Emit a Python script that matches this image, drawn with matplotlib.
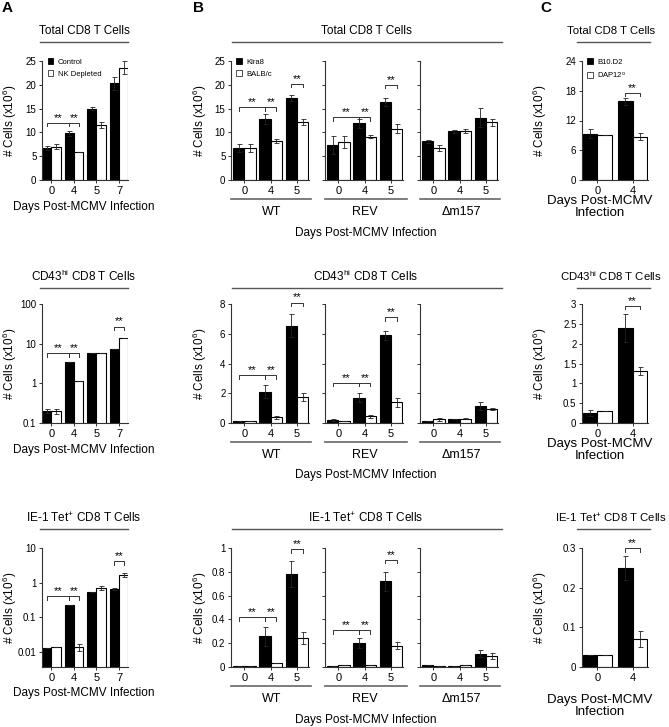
import matplotlib
matplotlib.use("Agg")
import matplotlib.pyplot as plt
from matplotlib.lines import Line2D
from matplotlib.patches import Patch

plt.rcParams["font.family"] = ["Liberation Sans", "DejaVu Sans"]
plt.rcParams["mathtext.default"] = "regular"

W, H = 669, 727

# ---- panel A: control vs NK depleted ----
days_A = ["0", "4", "5", "7"]
A_total_ctrl = [6.7, 9.8, 15.0, 20.3]
A_total_ctrl_err = [0.4, 0.5, 0.3, 1.3]
A_total_nk = [7.0, 5.8, 11.5, 23.6]
A_total_nk_err = [0.5, 0.0, 0.6, 1.3]
A_cd43_ctrl = [0.2, 3.4, 5.7, 7.3]
A_cd43_ctrl_err = [0.02, 0, 0, 0]
A_cd43_nk = [0.2, 1.15, 5.9, 13.5]
A_cd43_nk_err = [0.03, 0, 0, 0]
A_tet_ctrl = [0.013, 0.22, 0.55, 0.65]
A_tet_ctrl_err = [0, 0, 0, 0.05]
A_tet_nk = [0.014, 0.014, 0.72, 1.7]
A_tet_nk_err = [0, 0.003, 0.1, 0.2]
A_total_sig = [(0, 0, 1, 0, 12.0), (1, 0, 1, 1, 12.0)]
A_cd43_sig = [(0, 0, 1, 0, 5.8), (1, 0, 1, 1, 5.8), (3, 0, 3, 1, 27)]
A_tet_sig = [(0, 0, 1, 0, 0.4), (1, 0, 1, 1, 0.4), (3, 0, 3, 1, 4.2)]

# ---- panel B: Klra8 vs BALB/c, per virus ----
days_B = ["0", "4", "5"]
viruses = ["WT", "REV", "\u0394m157"]
B_total_klra8 = [[6.7, 12.8, 17.2], [7.3, 11.9, 16.4], [8.1, 10.2, 13.1]]
B_total_klra8_err = [[0.9, 1.0, 0.7], [1.9, 1.0, 0.9], [0.3, 0.4, 2.0]]
B_total_balb = [[6.7, 8.2, 12.2], [8.0, 9.1, 10.8], [6.7, 10.3, 12.1]]
B_total_balb_err = [[0.9, 0.4, 0.6], [1.2, 0.3, 0.9], [0.6, 0.5, 0.7]]
B_cd43_klra8 = [[0.15, 2.1, 6.55], [0.2, 1.7, 5.9], [0.15, 0.3, 1.15]]
B_cd43_klra8_err = [[0, 0.45, 0.8], [0.05, 0.3, 0.3], [0, 0, 0.25]]
B_cd43_balb = [[0.15, 0.4, 1.75], [0.15, 0.45, 1.4], [0.25, 0.3, 0.95]]
B_cd43_balb_err = [[0, 0.1, 0.25], [0, 0.1, 0.3], [0.1, 0.05, 0.05]]
B_tet_klra8 = [[0.01, 0.26, 0.78], [0.01, 0.2, 0.72], [0.015, 0.012, 0.11]]
B_tet_klra8_err = [[0, 0.08, 0.11], [0, 0.04, 0.08], [0, 0, 0.03]]
B_tet_balb = [[0.01, 0.03, 0.24], [0.015, 0.02, 0.18], [0.01, 0.013, 0.09]]
B_tet_balb_err = [[0, 0, 0.05], [0, 0, 0.03], [0, 0, 0.025]]
B_total_sig = [[(0, 0, 1, 0, 15.3), (1, 0, 1, 1, 15.3), (2, 0, 2, 1, 20.2)],
               [(0, 0, 1, 0, 13.2), (1, 0, 1, 1, 13.2), (2, 0, 2, 1, 20.0)], []]
B_cd43_sig = [[(0, 0, 1, 0, 3.2), (1, 0, 1, 1, 3.2), (2, 0, 2, 1, 8.1)],
              [(0, 0, 1, 0, 2.7), (1, 0, 1, 1, 2.7), (2, 0, 2, 1, 7.1)], []]
B_tet_sig = [[(0, 0, 1, 0, 0.42), (1, 0, 1, 1, 0.42), (2, 0, 2, 1, 0.99)],
             [(0, 0, 1, 0, 0.31), (1, 0, 1, 1, 0.31), (2, 0, 2, 1, 0.9)], []]

# ---- panel C: B10.D2 vs DAP12 ----
days_C = ["0", "4"]
C_total_b10 = [9.3, 15.9]
C_total_b10_err = [0.9, 0.7]
C_total_dap = [9.1, 8.7]
C_total_dap_err = [0, 0.7]
C_cd43_b10 = [0.25, 2.4]
C_cd43_b10_err = [0.07, 0.35]
C_cd43_dap = [0.3, 1.3]
C_cd43_dap_err = [0, 0.1]
C_tet_b10 = [0.03, 0.25]
C_tet_b10_err = [0, 0.03]
C_tet_dap = [0.03, 0.07]
C_tet_dap_err = [0, 0.02]
C_total_sig = [(1, 0, 1, 1, 17.6)]
C_cd43_sig = [(1, 0, 1, 1, 2.95)]
C_tet_sig = [(1, 0, 1, 1, 0.3)]

titles = ["Total CD8 T Cells", "CD43$^{hi}$ CD8 T Cells", "IE-1 Tet$^{+}$ CD8 T Cells"]
ylab = "# Cells (x10$^{6}$)"
xlab = "Days Post-MCMV Infection"

fig = plt.figure(figsize=(W / 100, H / 100), dpi=100)


def px_axes(x0, x1, y0, y1):
    return fig.add_axes([x0 / W, 1 - y1 / H, (x1 - x0) / W, (y1 - y0) / H])


def ftext(x, y, s, **kw):
    kw.setdefault("ha", "center")
    kw.setdefault("va", "center")
    fig.text(x / W, 1 - y / H, s, **kw)


def fline(x0, x1, y, color="#555555", lw=1.0):
    fig.add_artist(Line2D([x0 / W, x1 / W], [1 - y / H, 1 - y / H],
                          color=color, lw=lw, transform=fig.transFigure))


def bracket(ax, xa, xb, y):
    yp = ax.transData.transform((xa, y))[1]
    y2 = ax.transData.inverted().transform((0, yp - 3.5))[1]
    ax.plot([xa, xa, xb, xb], [y2, y, y, y2], color="#333333", lw=0.7,
            clip_on=False)
    ax.text((xa + xb) / 2, y, "**", ha="center", va="bottom", fontsize=8,
            clip_on=False)


def bars(ax, labels, black, black_err, white, white_err, w, xlim, ylim,
         yticks, ytl, sig, log=False, show_ylabels=True):
    x = list(range(len(labels)))
    xb = [i - w / 2 for i in x]
    xw = [i + w / 2 for i in x]
    ax.bar(xb, black, w, color="black", edgecolor="black", lw=0.8, zorder=2)
    ax.bar(xw, white, w, color="white", edgecolor="black", lw=0.8, zorder=2)
    ax.errorbar(xb, black, yerr=black_err, fmt="none", ecolor="#222222",
                elinewidth=0.6, capsize=1.8, capthick=0.6, zorder=3)
    ax.errorbar(xw, white, yerr=white_err, fmt="none", ecolor="#222222",
                elinewidth=0.6, capsize=1.8, capthick=0.6, zorder=3)
    if log:
        ax.set_yscale("log")
    ax.set_xlim(*xlim)
    ax.set_ylim(*ylim)
    ax.set_yticks(yticks)
    ax.minorticks_off()
    ax.set_yticklabels(ytl if show_ylabels else [])
    ax.set_xticks(x)
    ax.set_xticklabels(labels)
    for s in ["top", "right"]:
        ax.spines[s].set_visible(False)
    for s in ["left", "bottom"]:
        ax.spines[s].set_linewidth(0.8)
        ax.spines[s].set_color("#333333")
    ax.tick_params(axis="y", length=2.5, width=0.7, labelsize=7, pad=1.5,
                   colors="#333333", labelcolor="black")
    ax.tick_params(axis="x", length=2.5, width=0.7, labelsize=8, pad=2,
                   colors="#333333", labelcolor="black")
    centers = [xb, xw]
    for i1, s1, i2, s2, y in sig:
        bracket(ax, centers[s1][i1], centers[s2][i2], y)


def legend(ax, names):
    handles = [Patch(facecolor="black", edgecolor="black", lw=0.6),
               Patch(facecolor="white", edgecolor="#333333", lw=0.6)]
    ax.legend(handles, names, loc="upper left", bbox_to_anchor=(0.03, 1.05),
              frameon=False, fontsize=5.5, handlelength=0.75,
              handleheight=0.75, handletextpad=0.6, labelspacing=0.6,
              borderaxespad=0)


rows = [(61, 180), (304, 423), (548, 667)]
title_y = [31, 276, 518]
tline_y = [42, 288, 529]

# ---- A ----
wA = 0.42
xlimA = (-0.42, 3.4)
A_sets = [
    (A_total_ctrl, A_total_ctrl_err, A_total_nk, A_total_nk_err, (0, 25),
     [0, 5, 10, 15, 20, 25], ["0", "5", "10", "15", "20", "25"], A_total_sig, False),
    (A_cd43_ctrl, A_cd43_ctrl_err, A_cd43_nk, A_cd43_nk_err, (0.1, 100),
     [0.1, 1, 10, 100], ["0.1", "1", "10", "100"], A_cd43_sig, True),
    (A_tet_ctrl, A_tet_ctrl_err, A_tet_nk, A_tet_nk_err, (0.0037, 10),
     [0.01, 0.1, 1, 10], ["0.01", "0.1", "1", "10"], A_tet_sig, True),
]
xlab_A_y = [207, 450, 693]
for r, (bk, bke, wh, whe, yl, yt, ytl, sig, lg) in enumerate(A_sets):
    ax = px_axes(42, 128, *rows[r])
    bars(ax, days_A, bk, bke, wh, whe, wA, xlimA, yl, yt, ytl, sig, log=lg)
    if r == 0:
        legend(ax, ["Control", "NK Depleted"])
    ftext(84, title_y[r], titles[r], fontsize=8.5)
    fline(40, 128, tline_y[r])
    ftext(84, xlab_A_y[r], xlab, fontsize=8.5)
    ftext(10, (rows[r][0] + rows[r][1]) / 2, ylab, fontsize=8.5, rotation=90)

# ---- B ----
wB = 0.43
xlimB = (-0.5, 2.45)
B_sets = [
    (B_total_klra8, B_total_klra8_err, B_total_balb, B_total_balb_err, (0, 25),
     [0, 5, 10, 15, 20, 25], ["0", "5", "10", "15", "20", "25"], B_total_sig),
    (B_cd43_klra8, B_cd43_klra8_err, B_cd43_balb, B_cd43_balb_err, (0, 8),
     [0, 2, 4, 6, 8], ["0", "2", "4", "6", "8"], B_cd43_sig),
    (B_tet_klra8, B_tet_klra8_err, B_tet_balb, B_tet_balb_err, (0, 1),
     [0, 0.2, 0.4, 0.6, 0.8, 1], ["0", "0.2", "0.4", "0.6", "0.8", "1"], B_tet_sig),
]
B_x = [(231, 309), (325, 403), (420, 498)]
B_gline = [(231, 311), (325, 407), (420, 500)]
B_glabel_x = [272, 365, 461]
group_line_y = [199, 442, 686]
group_lab_y = [212, 455, 699]
xlab_B_y = [233, 475, 720]
for r, (bk, bke, wh, whe, yl, yt, ytl, sig) in enumerate(B_sets):
    for g in range(3):
        ax = px_axes(B_x[g][0], B_x[g][1], *rows[r])
        bars(ax, days_B, bk[g], bke[g], wh[g], whe[g], wB, xlimB, yl, yt, ytl,
             sig[g], show_ylabels=(g == 0))
        if r == 0 and g == 0:
            legend(ax, ["Klra8", "BALB/c"])
        fline(B_gline[g][0], B_gline[g][1], group_line_y[r], color="#666666", lw=1.2)
        ftext(B_glabel_x[g], group_lab_y[r], viruses[g], fontsize=9)
    ftext(366, title_y[r], titles[r], fontsize=8.5)
    fline(232, 502, tline_y[r])
    ftext(366, xlab_B_y[r], xlab, fontsize=8.5)
    ftext(200, (rows[r][0] + rows[r][1]) / 2, ylab, fontsize=8.5, rotation=90)

# ---- C ----
wC = 0.41
xlimC = (-0.44, 1.44)
C_sets = [
    (C_total_b10, C_total_b10_err, C_total_dap, C_total_dap_err, (0, 24),
     [0, 6, 12, 18, 24], ["0", "6", "12", "18", "24"], C_total_sig),
    (C_cd43_b10, C_cd43_b10_err, C_cd43_dap, C_cd43_dap_err, (0, 3),
     [0, 0.5, 1, 1.5, 2, 2.5, 3], ["0", "0.5", "1", "1.5", "2", "2.5", "3"], C_cd43_sig),
    (C_tet_b10, C_tet_b10_err, C_tet_dap, C_tet_dap_err, (0, 0.3),
     [0, 0.1, 0.2, 0.3], ["0", "0.1", "0.2", "0.3"], C_tet_sig),
]
xlab_C_y = [(201, 213), (444, 456), (700, 712)]
for r, (bk, bke, wh, whe, yl, yt, ytl, sig) in enumerate(C_sets):
    ax = px_axes(582, 648, *rows[r])
    bars(ax, days_C, bk, bke, wh, whe, wC, xlimC, yl, yt, ytl, sig)
    if r == 0:
        legend(ax, ["B10.D2", "DAP12$^{o}$"])
    ftext(611, title_y[r], titles[r], fontsize=8.2)
    fline(577, 650, tline_y[r])
    ftext(600, xlab_C_y[r][0], "Days Post-MCMV", fontsize=9.5)
    ftext(600, xlab_C_y[r][1], "Infection", fontsize=9.5)
    ftext(540, (rows[r][0] + rows[r][1]) / 2, ylab, fontsize=8.5, rotation=90)

ftext(7, 8, "A", fontsize=11, fontweight="bold")
ftext(198, 8, "B", fontsize=11, fontweight="bold")
ftext(546, 8, "C", fontsize=11, fontweight="bold")

fig.savefig("out.png", dpi=100)
